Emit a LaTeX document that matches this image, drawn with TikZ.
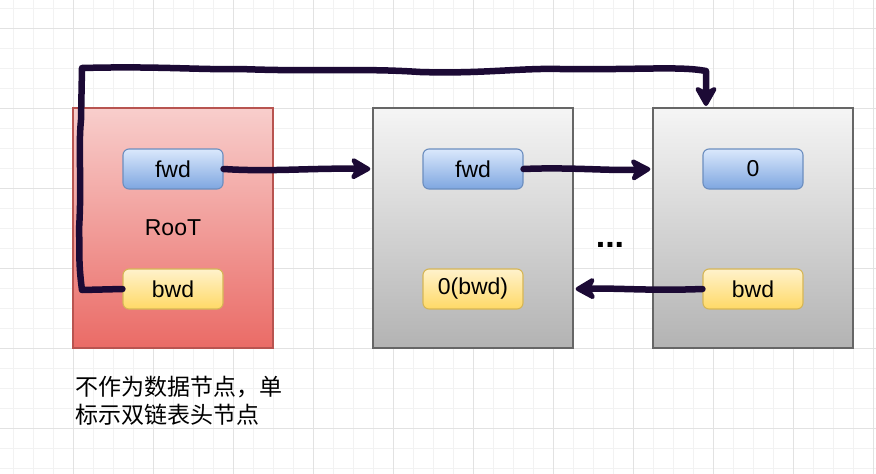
\documentclass[tikz,border=0pt]{standalone}
\usepackage{fontspec}
\setmainfont{Liberation Sans}
\newfontfamily\cjk{Noto Sans CJK SC}
\usetikzlibrary{arrows.meta,calc}
\definecolor{gridminor}{HTML}{F2F2F2}
\definecolor{gridmajor}{HTML}{E2E2E2}
\definecolor{rtop}{HTML}{F8CECC}
\definecolor{rbot}{HTML}{EA6B66}
\definecolor{rline}{HTML}{B85450}
\definecolor{gtop}{HTML}{F5F5F5}
\definecolor{gbot}{HTML}{B3B3B3}
\definecolor{gline}{HTML}{666666}
\definecolor{btop}{HTML}{DAE8FC}
\definecolor{bbot}{HTML}{7EA6E0}
\definecolor{bline}{HTML}{6C8EBF}
\definecolor{ytop}{HTML}{FFF2CC}
\definecolor{ybot}{HTML}{FFD966}
\definecolor{yline}{HTML}{D6B656}
\definecolor{ink}{HTML}{1C0A35}
\tikzset{
  bigbox/.style={minimum width=200pt, minimum height=240pt, inner sep=0pt, line width=1.3pt, font=\fontsize{23}{27}\selectfont},
  rootbox/.style={bigbox, draw=rline, top color=rtop, bottom color=rbot},
  graybox/.style={bigbox, draw=gline, top color=gtop, bottom color=gbot},
  field/.style={minimum width=100pt, minimum height=40pt, inner sep=0pt, rounded corners=6pt, line width=1.1pt, font=\fontsize{23}{27}\selectfont},
  bluefield/.style={field, draw=bline, top color=btop, bottom color=bbot},
  yellowfield/.style={field, draw=yline, top color=ytop, bottom color=ybot},
  arr/.style={draw=ink, line width=6.5pt, line cap=round, line join=round,
    -{Stealth[length=24pt, width=27pt, inset=7pt, round]}},
}
\begin{document}
\begin{tikzpicture}[x=1pt, y=-1pt]
\useasboundingbox (0,0) rectangle (876,474);
\fill[white] (0,0) rectangle (876,474);
% grid
\foreach \x in {13,33,...,873} \draw[gridminor, line width=0.8pt] (\x,0) -- (\x,474);
\foreach \y in {8,28,...,468} \draw[gridminor, line width=0.8pt] (0,\y) -- (876,\y);
\foreach \x in {73,153,...,873} \draw[gridmajor, line width=0.9pt] (\x,0) -- (\x,474);
\foreach \y in {28,108,...,468} \draw[gridmajor, line width=0.9pt] (0,\y) -- (876,\y);

% boxes
\node[rootbox] (root) at (173,228) {RooT};
\node[graybox] (b2) at (473,228) {};
\node[graybox] (b3) at (753,228) {};

\node[bluefield] (rfwd) at (173,169) {fwd};
\node[yellowfield] (rbwd) at (173,289) {bwd};
\node[bluefield] (b2fwd) at (473,169) {fwd};
\node[yellowfield] (b2bwd) at (473,289) {0(bwd)};
\node[bluefield] (b3fwd) at (753,169) {0};
\node[yellowfield] (b3bwd) at (753,289) {bwd};

\node[font=\bfseries\fontsize{34}{34}\selectfont] (dots) at (610,245) {...};

\node[anchor=north west, align=left, inner sep=0pt, font=\cjk\fontsize{23}{28}\selectfont] (note) at (75,376) {不作为数据节点，单\\标示双链表头节点};

% connectors
\coordinate (c1) at (82,290);
\coordinate (c2) at (79,230);
\coordinate (c3) at (81,120);
\coordinate (c4) at (82,68);
\coordinate (c5) at (240,69);
\coordinate (c6) at (420,72);
\coordinate (c7) at (560,69);
\coordinate (c8) at (706,71);
\coordinate (b3top) at (706,106);

\draw[arr] (rbwd.west) -- (c1) .. controls (78,260) and (80,250) .. (c2)
  .. controls (82,180) and (78,150) .. (c3) -- (c4)
  .. controls (160,66) and (200,70) .. (c5)
  .. controls (320,72) and (360,68) .. (c6)
  .. controls (480,74) and (520,68) .. (c7)
  .. controls (640,70) and (680,66) .. (c8) -- (b3top);

\draw[arr, shorten >=2pt] (rfwd.east) .. controls (270,172) and (310,168) .. (rfwd -| b2.west);
\draw[arr, shorten >=2pt] (b2fwd.east) .. controls (570,167) and (610,171) .. (b2fwd -| b3.west);
\draw[arr, shorten >=2pt] (b3bwd.west) .. controls (650,291) and (620,288) .. (b3bwd -| b2.east);
\end{tikzpicture}
\end{document}
